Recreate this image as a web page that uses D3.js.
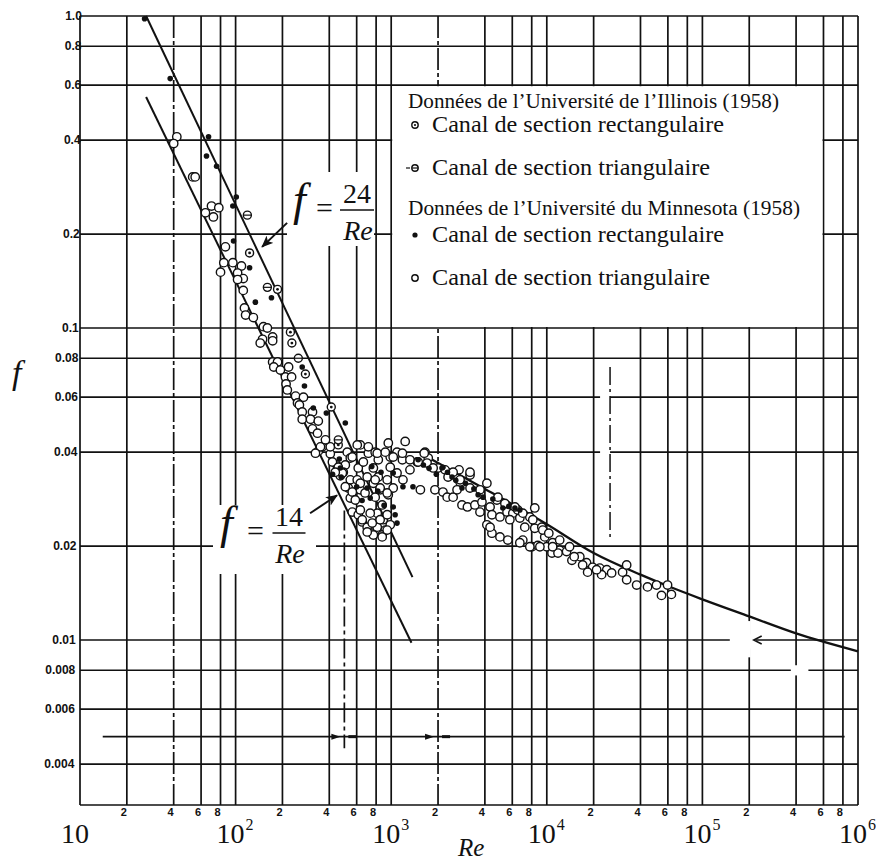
<!DOCTYPE html>
<html>

<head>
    <meta charset="utf-8">
    <title>f en fonction de Re</title>
    <script src="https://d3js.org/d3.v7.min.js"></script>
    <style>
        body { margin: 0; background: #fff; }
    </style>
    <script>
    // axes
    var decades = [10, 100, 1000, 10000, 100000, 1000000];
    var minorMults = [2, 4, 6, 8];
    var decadeSup = ["", "2", "3", "4", "5", "6"];
    var fTicks = [1.0, 0.8, 0.6, 0.4, 0.2, 0.1, 0.08, 0.06, 0.04, 0.02, 0.01, 0.008, 0.006, 0.004];
    var fTickLabels = ["1.0", "0.8", "0.6", "0.4", "0.2", "0.1", "0.08", "0.06", "0.04", "0.02", "0.01", "0.008", "0.006", "0.004"];

    // laminar lines f = 24/Re and f = 14/Re, end points as drawn
    var lam24 = [[26.6, 1.0], [1370, 0.0159]];
    var lam14 = [[26.6, 0.55], [1350, 0.0098]];

    // turbulent curve
    var turbRe = [1800, 4000, 10000, 20000, 40000, 64000, 100000, 200000, 400000, 1000000];
    var turbF = [0.038, 0.0305, 0.0235, 0.019, 0.0162, 0.0147, 0.0135, 0.0119, 0.0105, 0.0092];

    // transition marks
    var transRe = [500, 2000];
    var transLineRe = [14, 820000];
    var transLineF = 0.0049;

    // Illinois (1958)
    var illRect = [[123, 0.174], [186, 0.133], [225, 0.097], [230, 0.0895], [281, 0.0712], [412, 0.0558], [457, 0.0422]];
    var illTri = [[119, 0.23], [160, 0.135], [253, 0.08], [457, 0.0438]];

    // Minnesota (1958), rectangular channel
    var minnRect = [[26, 0.98], [38, 0.63], [67, 0.41], [65, 0.356], [75.5, 0.33], [101, 0.263], [96, 0.246], [97, 0.19],
        [123, 0.156], [134, 0.121], [170, 0.125], [268, 0.075], [277, 0.0652], [316, 0.0554], [383, 0.0534], [507, 0.0496],
        [464, 0.038], [471, 0.0356], [477, 0.0333], [701, 0.0307], [733, 0.0285], [1030, 0.0343], [1190, 0.031],
        [1380, 0.031], [1490, 0.0378], [1030, 0.0267], [1090, 0.0237], [1610, 0.0364], [2120, 0.0356], [2460, 0.0333],
        [2850, 0.0307], [3620, 0.0292], [3890, 0.0287], [5220, 0.0265], [6240, 0.0265], [6710, 0.0261], [1060, 0.0252],
        [2150, 0.0358], [1750, 0.0355], [1950, 0.034], [2300, 0.0345], [2600, 0.0325], [3000, 0.0318], [3400, 0.0305],
        [4500, 0.0283], [5700, 0.0268], [420, 0.034], [600, 0.031], [650, 0.028], [820, 0.03], [900, 0.027], [750, 0.036], [860, 0.0345]];

    // Minnesota (1958), triangular channel
    var minnTri = [[41.9, 0.41], [40, 0.39], [53, 0.305], [55, 0.305], [70, 0.246], [78, 0.243], [64, 0.234], [72, 0.227], [86, 0.182],
        [84, 0.162], [96, 0.162], [80, 0.151], [109, 0.158], [103, 0.15], [112, 0.144], [103, 0.143], [112, 0.132], [114, 0.116],
        [116, 0.11], [130, 0.108], [151, 0.101], [160, 0.1], [149, 0.092], [144, 0.0895], [173, 0.0936], [173, 0.091],
        [173, 0.0778], [186, 0.0778], [176, 0.075], [194, 0.0733], [219, 0.075], [209, 0.0697], [229, 0.0697], [211, 0.0662],
        [215, 0.0633], [243, 0.0605], [273, 0.06], [250, 0.0575],
        [257, 0.0567], [268, 0.0538], [312, 0.0538], [268, 0.051], [303, 0.051], [340, 0.0503], [312, 0.0475], [336, 0.046],
        [340, 0.0403], [361, 0.0416], [406, 0.0395], [451, 0.0361], [522, 0.04], [546, 0.0383], [507, 0.0364], [492, 0.0345],
        [471, 0.0336], [546, 0.0326], [530, 0.0307], [570, 0.0298], [546, 0.0285], [562, 0.0257], [614, 0.0252], [651, 0.0239],
        [701, 0.023], [755, 0.022], [633, 0.0303], [605, 0.0326], [614, 0.0356], [662, 0.0372], [713, 0.0397], [789, 0.04],
        [633, 0.0422], [826, 0.0378], [768, 0.0356], [826, 0.0333], [768, 0.0318], [849, 0.0303], [789, 0.0287], [875, 0.0271],
        [813, 0.0255], [889, 0.0243], [813, 0.023], [916, 0.0225], [875, 0.0217], [986, 0.0234], [958, 0.0428], [1230, 0.0433],
        [986, 0.0386], [1090, 0.04], [1180, 0.0378], [986, 0.0358], [1090, 0.0343], [942, 0.0326], [1030, 0.0307], [958, 0.0292],
        [1190, 0.0326], [1320, 0.0351], [1540, 0.0303], [1470, 0.0372], [1650, 0.04],
        [713, 0.0416], [813, 0.0397], [916, 0.04], [1030, 0.0386], [1180, 0.0397], [1320, 0.0378], [1490, 0.0372], [1730, 0.0383],
        [562, 0.0386], [419, 0.0372], [457, 0.0358], [485, 0.0343], [437, 0.0345], [507, 0.031], [562, 0.0298], [633, 0.0318],
        [701, 0.0333], [789, 0.0326], [849, 0.0307], [942, 0.0296], [679, 0.0296], [588, 0.0281], [633, 0.0261], [733, 0.0255],
        [651, 0.0243], [755, 0.0237], [849, 0.0243], [942, 0.0252], [768, 0.0217], [875, 0.0214], [701, 0.0222], [942, 0.0225],
        [351, 0.0416], [406, 0.0416], [326, 0.0397], [378, 0.0438], [605, 0.0422],
        [1630, 0.0397], [1700, 0.0369], [1910, 0.0303], [2000, 0.0356], [2220, 0.0351], [2730, 0.0351], [3210, 0.0338],
        [2770, 0.0321], [2150, 0.0298], [2290, 0.0287], [2500, 0.0287], [2650, 0.0303], [3210, 0.0307], [2850, 0.0271],
        [3090, 0.0267], [3450, 0.0271], [3830, 0.0277], [4120, 0.0318], [3720, 0.0257], [4320, 0.0267], [4440, 0.0252],
        [5000, 0.0248], [4780, 0.0281], [5380, 0.0274], [5550, 0.0257], [6050, 0.0255], [5790, 0.0243], [6710, 0.0246],
        [6510, 0.0261], [8370, 0.0265], [7780, 0.0248], [7220, 0.023], [8370, 0.0228], [9290, 0.023], [4120, 0.0234],
        [4440, 0.022], [5000, 0.0214], [5620, 0.0209], [7010, 0.0209], [8010, 0.0199], [8750, 0.0201], [10000, 0.0199],
        [9700, 0.0214], [10900, 0.0205], [10800, 0.019], [12100, 0.0194], [13400, 0.0192], [14500, 0.018], [16300, 0.0185],
        [18000, 0.0177], [19700, 0.0171], [21900, 0.017], [24300, 0.0168], [26100, 0.0164], [18300, 0.0165], [22500, 0.0162],
        [1860, 0.0356], [2320, 0.0333],
        [2770, 0.0326], [3720, 0.0303], [4850, 0.0287], [6240, 0.0267], [7010, 0.0255], [8130, 0.0243], [9420, 0.0225],
        [10300, 0.022], [12100, 0.0209], [14000, 0.0199], [15000, 0.0185], [11800, 0.019], [10900, 0.0199], [4320, 0.023],
        [6710, 0.0205], [7780, 0.0199], [9030, 0.0199], [3210, 0.0345], [2500, 0.0345],
        [17000, 0.0174], [20900, 0.0168], [30700, 0.0165], [32600, 0.0156], [37800, 0.015], [44400, 0.0148], [50700, 0.015],
        [59700, 0.015], [54600, 0.0139], [63200, 0.014], [32600, 0.0174]];

    var legendRows = [
        { kind: "head", text: "Données de l’Université de l’Illinois (1958)", y: 108, w: 371 },
        { kind: "illRect", text: "Canal de section rectangulaire", y: 132, w: 292 },
        { kind: "illTri", text: "Canal de section triangulaire", y: 175, w: 278 },
        { kind: "head", text: "Données de l’Université du Minnesota (1958)", y: 215, w: 392 },
        { kind: "minnRect", text: "Canal de section rectangulaire", y: 242, w: 292 },
        { kind: "minnTri", text: "Canal de section triangulaire", y: 285, w: 278 }
    ];

    var serif = "'Liberation Serif', 'Times New Roman', serif";
    var sans = "'Liberation Sans', Arial, sans-serif";

    function drawChart() {
        var svg = d3.select("body").append("svg").attr("width", 876).attr("height", 863);
        svg.append("rect").attr("width", 876).attr("height", 863).attr("fill", "#fff");

        var x = d3.scaleLog().domain([10, 1e6]).range([80, 858]);
        var y = d3.scaleLog().domain([0.002959, 1]).range([805, 16]);

        var defs = svg.append("defs");
        defs.append("marker").attr("id", "arr").attr("viewBox", "0 0 12 10").attr("refX", 11).attr("refY", 5)
            .attr("markerWidth", 12).attr("markerHeight", 10).attr("markerUnits", "userSpaceOnUse").attr("orient", "auto")
            .append("path").attr("d", "M0,0 L12,5 L0,10 L3,5 z").attr("fill", "#111");

        var grid = svg.append("g").attr("stroke", "#111").attr("stroke-width", 1.7).attr("fill", "none");

        // vertical grid
        var vLines = [];
        decades.forEach(function(d, i) {
            vLines.push(d);
            if (i < decades.length - 1) {
                minorMults.forEach(function(m) { vLines.push(d * m); });
            }
        });
        grid.selectAll("line.v").data(vLines).enter().append("line").attr("class", "v")
            .attr("x1", function(d) { return x(d); }).attr("x2", function(d) { return x(d); })
            .attr("y1", y(1)).attr("y2", y.range()[0])
            .attr("stroke-dasharray", function(d) { return (d === 40 || d === 2000) ? "22,3,4,3" : null; });

        // horizontal grid
        grid.selectAll("line.h").data(fTicks).enter().append("line").attr("class", "h")
            .attr("x1", x(10)).attr("x2", x(1e6))
            .attr("y1", function(d) { return y(d); }).attr("y2", function(d) { return y(d); });
        grid.append("line").attr("x1", x(10)).attr("x2", x(1e6)).attr("y1", y.range()[0]).attr("y2", y.range()[0]);

        // scan gaps in the lower right
        var gaps = svg.append("g").attr("fill", "#fff");
        gaps.append("rect").attr("x", x(1.5e5)).attr("y", y(0.0104)).attr("width", x(2.2e5) - x(1.5e5)).attr("height", y(0.0094) - y(0.0104));
        gaps.append("rect").attr("x", x(1.9e5)).attr("y", y(0.0115)).attr("width", 5).attr("height", y(0.0088) - y(0.0115));
        gaps.append("rect").attr("x", x(3.7e5)).attr("y", y(0.0083)).attr("width", x(4.8e5) - x(3.7e5)).attr("height", y(0.0077) - y(0.0083));
        gaps.append("rect").attr("x", x(2.2e4)).attr("y", y(0.075)).attr("width", x(2.55e4) - x(2.2e4)).attr("height", y(0.021) - y(0.075));
        svg.append("line").attr("x1", x(2.55e4)).attr("x2", x(2.55e4)).attr("y1", y(0.075)).attr("y2", y(0.021))
            .attr("stroke", "#111").attr("stroke-width", 1.5).attr("stroke-dasharray", "18,4,3,4");
        svg.append("path").attr("d", "M" + (x(2.2e5) + 6) + "," + (y(0.01) - 4) + " L" + (x(2.2e5) - 2) + "," + y(0.01) + " L" + (x(2.2e5) + 6) + "," + (y(0.01) + 4))
            .attr("stroke", "#111").attr("stroke-width", 1.5).attr("fill", "none");

        // transition region marks
        svg.append("line").attr("x1", x(transLineRe[0])).attr("x2", x(transLineRe[1]))
            .attr("y1", y(transLineF)).attr("y2", y(transLineF)).attr("stroke", "#111").attr("stroke-width", 1.7);
        svg.append("line").attr("x1", x(transRe[0])).attr("x2", x(transRe[0]))
            .attr("y1", y(0.026)).attr("y2", y(0.0045)).attr("stroke", "#111").attr("stroke-width", 1.7)
            .attr("stroke-dasharray", "20,4,4,4");
        transRe.forEach(function(r) {
            var cx = x(r) - 4, cy = y(transLineF);
            svg.append("path").attr("d", "M" + (cx - 9) + "," + (cy - 3) + " L" + cx + "," + cy + " L" + (cx - 9) + "," + (cy + 3) + " z")
                .attr("fill", "#111");
            svg.append("line").attr("x1", x(r) + 4).attr("x2", x(r) + 12).attr("y1", cy).attr("y2", cy)
                .attr("stroke", "#111").attr("stroke-width", 3);
        });

        // legend box and annotation backgrounds
        svg.append("rect").attr("x", x(1000) + 1).attr("y", y(0.6) + 1)
            .attr("width", x(6e5) - x(1000) - 2).attr("height", y(0.1) - y(0.6) - 2).attr("fill", "#fff");
        svg.append("rect").attr("x", 287).attr("y", 172).attr("width", 87).attr("height", 74).attr("fill", "#fff");
        svg.append("rect").attr("x", 213).attr("y", 505).attr("width", 103).attr("height", 69).attr("fill", "#fff");

        // curves
        var lineGen = d3.line().x(function(d) { return x(d[0]); }).y(function(d) { return y(d[1]); });
        var curves = svg.append("g").attr("fill", "none").attr("stroke", "#111").attr("stroke-width", 2);
        curves.append("path").attr("d", lineGen(lam24));
        curves.append("path").attr("d", lineGen(lam14));
        var turb = turbRe.map(function(r, i) { return [r, turbF[i]]; });
        curves.append("path").attr("d", lineGen.curve(d3.curveMonotoneX)(turb)).attr("stroke-width", 2.3);

        // data points
        var pts = svg.append("g");
        drawPoints(pts, minnTri, "minnTri", x, y, 4.2);
        drawPoints(pts, illRect, "illRect", x, y, 4);
        drawPoints(pts, illTri, "illTri", x, y, 4);
        drawPoints(pts, minnRect, "minnRect", x, y, 2.8);

        // legend
        var lg = svg.append("g").attr("font-family", serif).attr("fill", "#111");
        legendRows.forEach(function(r) {
            if (r.kind === "head") {
                lg.append("text").attr("x", 408).attr("y", r.y).attr("font-size", 20)
                    .attr("textLength", r.w).attr("lengthAdjust", "spacingAndGlyphs").text(r.text);
            } else {
                drawMarker(lg, r.kind, 415, r.y - 7, r.kind === "minnRect" ? 2.6 : 3.2);
                if (r.kind === "illTri") {
                    lg.append("line").attr("x1", 406).attr("x2", 410).attr("y1", r.y - 7).attr("y2", r.y - 7)
                        .attr("stroke", "#111").attr("stroke-width", 1.2);
                }
                lg.append("text").attr("x", 432).attr("y", r.y).attr("font-size", 24)
                    .attr("textLength", r.w).attr("lengthAdjust", "spacingAndGlyphs").text(r.text);
            }
        });

        // formula labels
        drawFormula(svg, { fx: 293, eqx: 316, cx: 357, bar: 210, w: 34, num: "24" });
        drawFormula(svg, { fx: 220, eqx: 247, cx: 289, bar: 533, w: 33, num: "14" });
        var tip24 = [148, 0.182], tip14 = [449, 0.0291];
        svg.append("line").attr("x1", x(tip24[0]) + 25).attr("y1", y(tip24[1]) - 24)
            .attr("x2", x(tip24[0])).attr("y2", y(tip24[1]))
            .attr("stroke", "#111").attr("stroke-width", 2).attr("marker-end", "url(#arr)");
        svg.append("line").attr("x1", x(tip14[0]) - 27).attr("y1", y(tip14[1]) + 18)
            .attr("x2", x(tip14[0])).attr("y2", y(tip14[1]))
            .attr("stroke", "#111").attr("stroke-width", 2).attr("marker-end", "url(#arr)");

        // y tick labels
        svg.append("g").attr("font-family", sans).attr("font-weight", "bold").attr("font-size", 12).attr("fill", "#111")
            .selectAll("text").data(fTicks).enter().append("text")
            .attr("text-anchor", "end")
            .attr("x", function(d) { return 78 + (400 - y(d)) * 0.01; })
            .attr("y", function(d) { return y(d) + 4; })
            .text(function(d, i) { return fTickLabels[i]; });

        // x minor tick labels
        var minorLab = [];
        decades.slice(0, 5).forEach(function(d) {
            minorMults.forEach(function(m) { minorLab.push({ v: d * m, t: String(m) }); });
        });
        svg.append("g").attr("font-family", sans).attr("font-weight", "bold").attr("font-size", 11).attr("fill", "#111")
            .selectAll("text").data(minorLab).enter().append("text")
            .attr("text-anchor", "middle")
            .attr("x", function(d) { return x(d.v) - 3; }).attr("y", 816)
            .text(function(d) { return d.t; });

        // decade labels
        var dl = svg.append("g").attr("font-family", serif).attr("fill", "#111");
        decades.forEach(function(d, i) {
            dl.append("text").attr("x", x(d) - 5).attr("y", 843).attr("text-anchor", "middle")
                .attr("font-size", 28).text("10");
            if (decadeSup[i]) {
                dl.append("text").attr("x", x(d) + 10).attr("y", 830).attr("font-size", 16).text(decadeSup[i]);
            }
        });

        // axis titles
        svg.append("text").attr("x", 458).attr("y", 856).attr("font-family", serif).attr("font-style", "italic")
            .attr("font-size", 25).attr("fill", "#111").text("Re");
        svg.append("text").attr("x", 12).attr("y", 384).attr("font-family", serif).attr("font-style", "italic")
            .attr("font-size", 34).attr("fill", "#111").text("f");
    }

    function drawPoints(g, data, kind, x, y, r) {
        data.forEach(function(d) {
            drawMarker(g, kind, x(d[0]), y(d[1]), r);
        });
    }

    function drawMarker(g, kind, cx, cy, r) {
        if (kind === "minnRect") {
            g.append("circle").attr("cx", cx).attr("cy", cy).attr("r", r).attr("fill", "#111");
            return;
        }
        g.append("circle").attr("cx", cx).attr("cy", cy).attr("r", r)
            .attr("fill", "#fff").attr("stroke", "#111").attr("stroke-width", 1.4);
        if (kind === "illRect") {
            g.append("circle").attr("cx", cx).attr("cy", cy).attr("r", r * 0.35).attr("fill", "#111");
        }
        if (kind === "illTri") {
            g.append("line").attr("x1", cx - r).attr("x2", cx + r).attr("y1", cy).attr("y2", cy)
                .attr("stroke", "#111").attr("stroke-width", 1.2);
        }
    }

    function drawFormula(svg, o) {
        var g = svg.append("g").attr("font-family", serif).attr("fill", "#111");
        g.append("text").attr("x", o.fx).attr("y", o.bar + 5).attr("font-size", 46).attr("font-style", "italic").text("f");
        g.append("text").attr("x", o.eqx).attr("y", o.bar + 8).attr("font-size", 30).text("=");
        g.append("text").attr("x", o.cx).attr("y", o.bar - 7).attr("font-size", 28).attr("text-anchor", "middle").text(o.num);
        g.append("line").attr("x1", o.cx - o.w / 2).attr("x2", o.cx + o.w / 2).attr("y1", o.bar).attr("y2", o.bar)
            .attr("stroke", "#111").attr("stroke-width", 1.5);
        g.append("text").attr("x", o.cx + 1).attr("y", o.bar + 30).attr("font-size", 28).attr("font-style", "italic")
            .attr("text-anchor", "middle").text("Re");
    }
    </script>
</head>

<body onload="drawChart()">
</body>

</html>
